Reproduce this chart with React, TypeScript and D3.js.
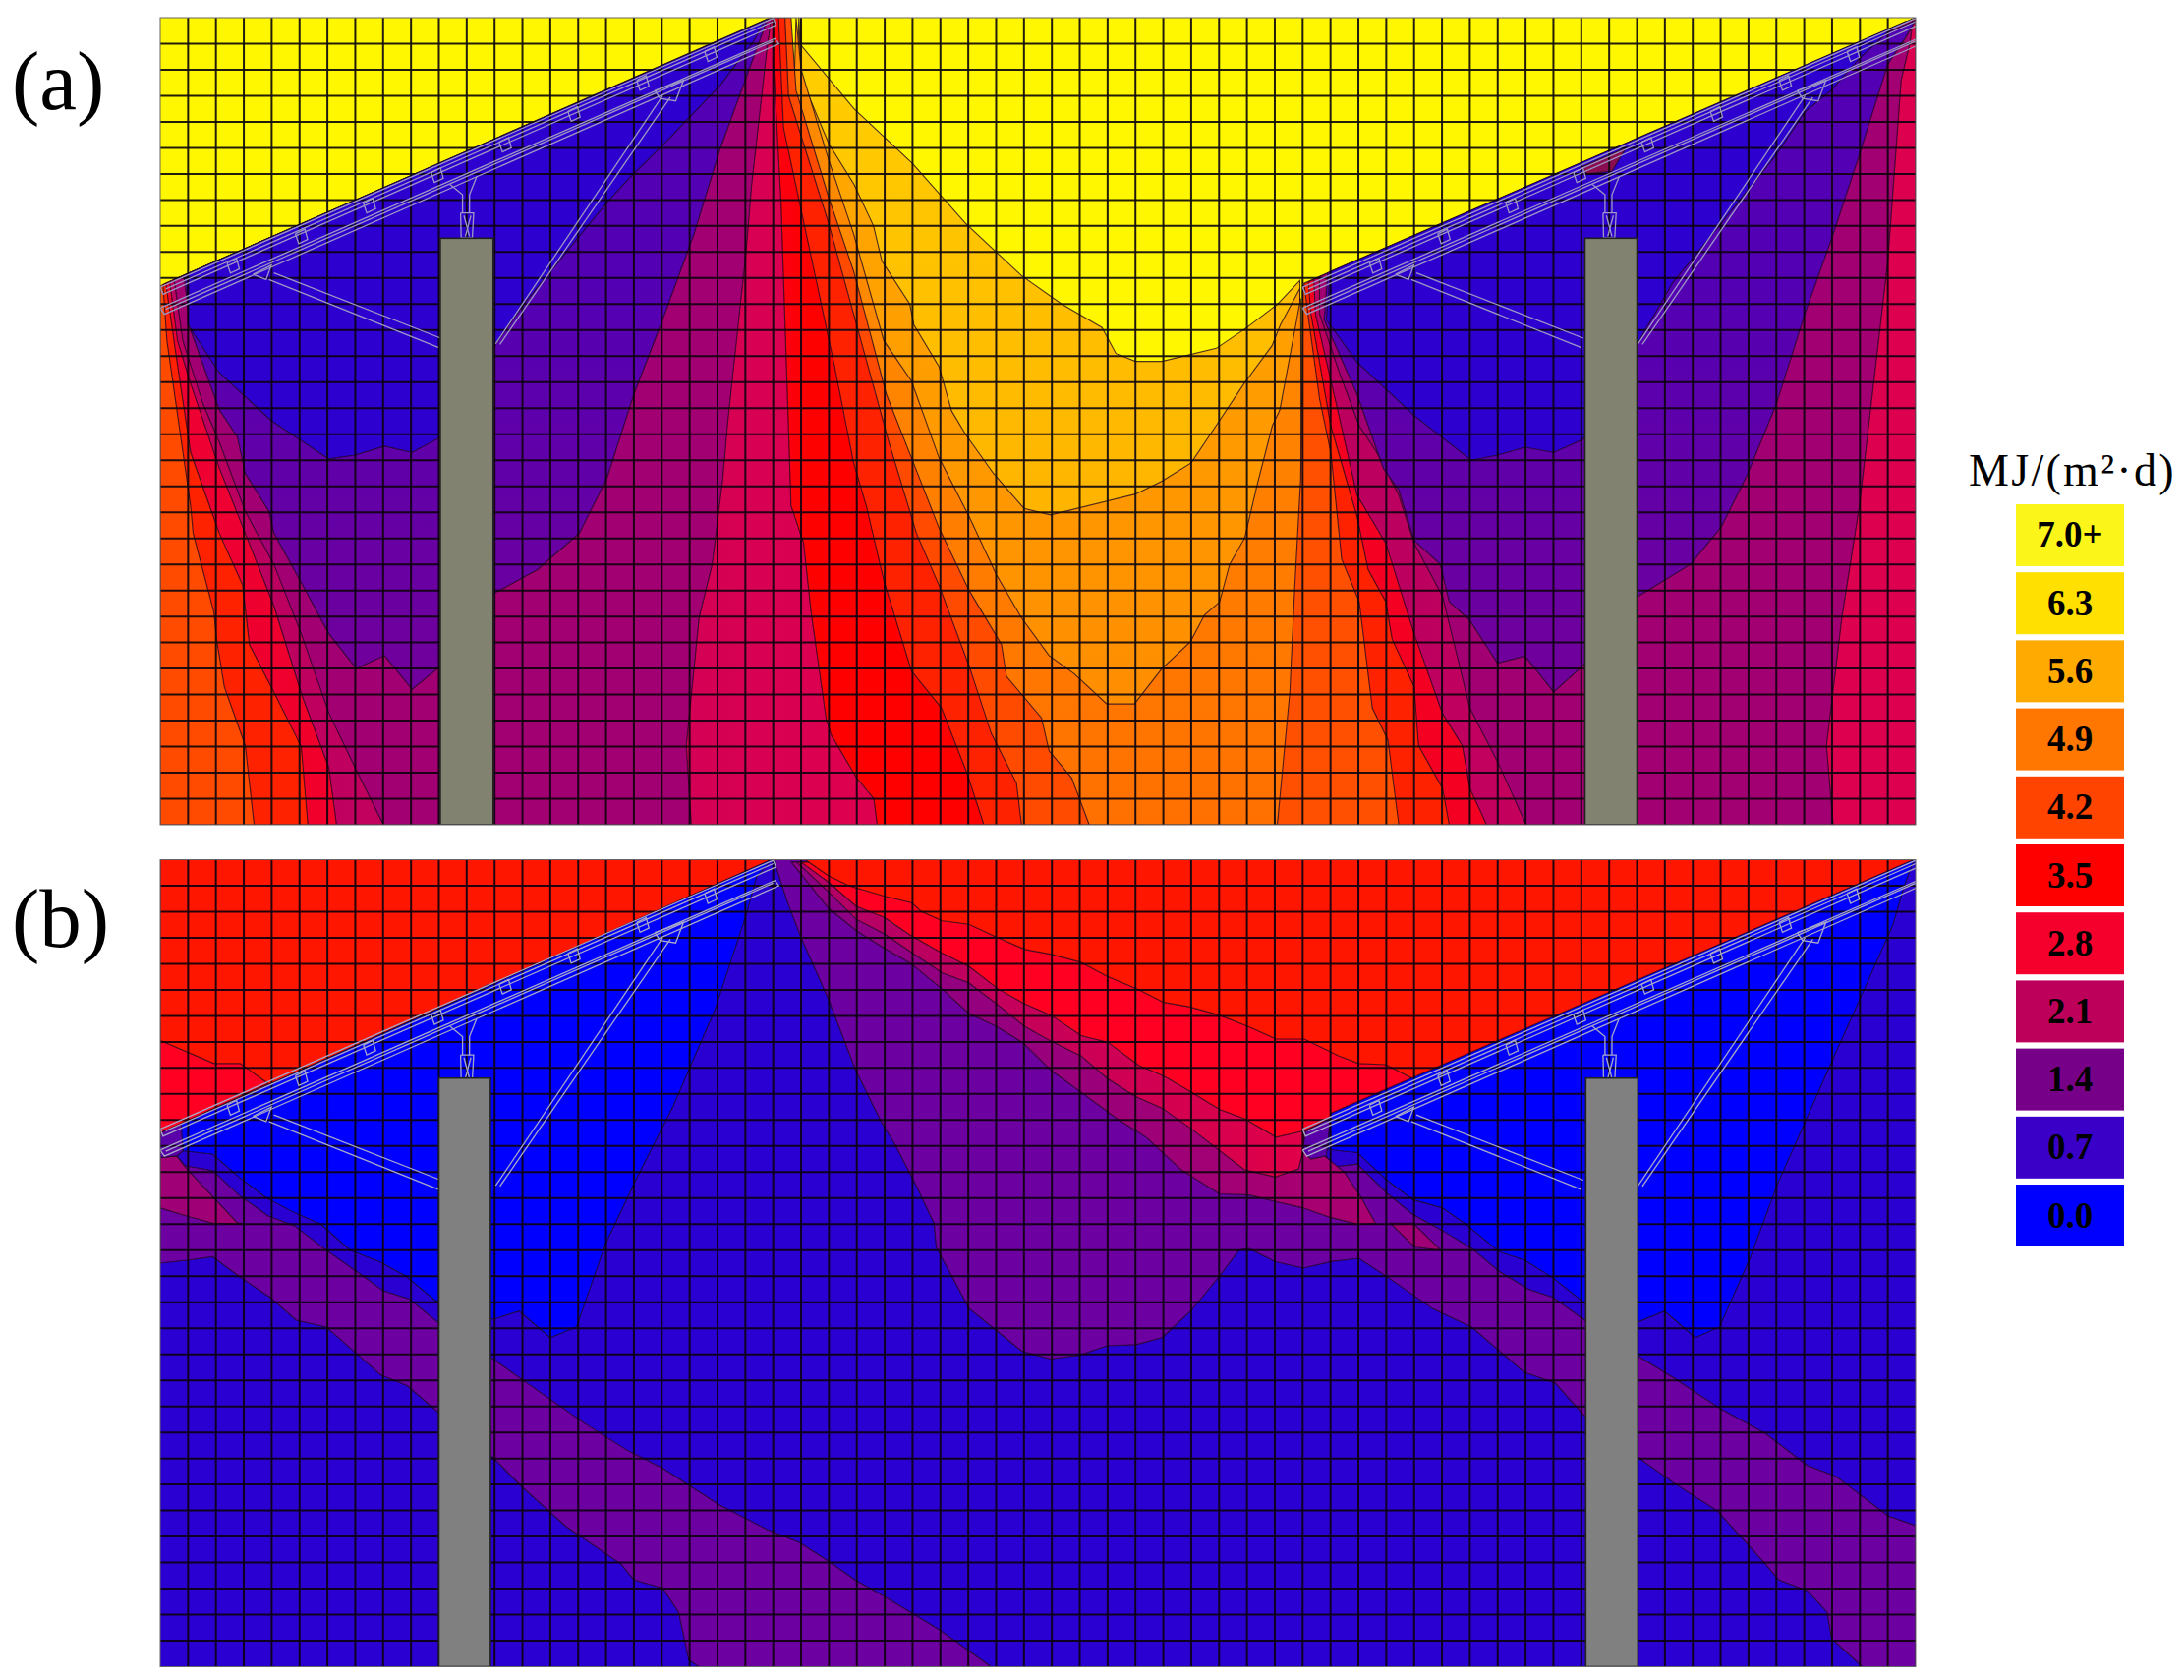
import { useRef, useEffect } from 'react';
import * as d3 from 'd3';

type Pt = [number, number];

// legend
const legendLabels = ['7.0+', '6.3', '5.6', '4.9', '4.2', '3.5', '2.8', '2.1', '1.4', '0.7', '0.0'];
const legendColors = ['#fbf51a', '#ffe000', '#ffaa00', '#ff7700', '#ff4400', '#ff0000', '#f5002d', '#bd005a', '#770088', '#3a00c8', '#0000ff'];

// panel (a), middle of the field
const a63: Pt[] = [[22.98, 0], [23, 1.06], [24.9, 3.5], [27, 5.6], [28.9, 7.9], [30.9, 9.9], [32.35, 11], [33.8, 11.9], [34.3, 12.9], [35, 13.2], [35.95, 13.2], [37.9, 12.7], [39, 11.9], [40.1, 11], [40.9, 10.1]];
const a56: Pt[] = [[22.92, 0], [23, 2.3], [24, 4.85], [24.9, 6.4], [25.6, 8], [25.9, 9.35], [26.9, 11], [27.05, 11.8], [27.95, 13.4], [28.4, 15.1], [28.9, 16], [29.9, 17.5], [31, 18.85], [31.95, 19.1], [35, 18.3], [35.95, 17.8], [37, 17.1], [38, 15.5], [38.9, 14.05], [39.9, 12.6], [40.2, 11.8], [40.9, 10.4]];
const a49: Pt[] = [[22.82, 0], [23, 1.98], [23.99, 5.46], [24.89, 8.32], [25.97, 12.41], [26.96, 13.95], [27.95, 16.9], [29.03, 19.16], [30.01, 21.4], [30.91, 23.05], [31.9, 24.5], [32.8, 25.2], [33.97, 26.36], [34.96, 26.36], [35.95, 25], [36.97, 23.97], [37.48, 22.94], [38.02, 22.44], [38.38, 21], [38.92, 19.98], [39.37, 17.93], [39.91, 15.68], [40.18, 15.07], [40.93, 10.78]];

// panel (a), right hand sides of the first pier
const aL4: Pt[] = [[22.64, 0], [22.82, 2.8], [23.99, 6.9], [24.89, 9.75], [26.06, 14.46], [26.96, 16.9], [27.95, 19.6], [29.03, 22], [30.19, 24.07], [30.37, 25.3], [31.63, 26.9], [31.9, 28.16], [32.71, 29.2], [33.34, 31]];
const aL3: Pt[] = [[22.42, 0], [22.55, 3], [23.99, 7.9], [24.89, 11.4], [26.15, 16.3], [27.14, 19.8], [27.95, 21.8], [29.03, 24.9], [29.83, 27.5], [30.73, 29.4], [30.91, 31]];
const aL2: Pt[] = [[22.19, 0], [22.37, 4.23], [23.27, 8.73], [24.17, 13.23], [24.89, 17.12], [25.34, 18.75], [25.97, 21.62], [26.96, 25.09], [28.04, 26.52], [28.94, 28.98], [29.56, 31]];
const aL1: Pt[] = [[22.01, 0], [22.01, 1.78], [22.28, 7.1], [22.64, 18.75], [23.09, 20.18], [23.36, 22.84], [23.9, 26.93], [24.08, 27.55], [24.98, 29.18], [25.61, 30], [25.73, 31]];
const aCr: Pt[] = [[21.93, 0], [21.78, 1.17], [21.22, 6.48], [21.03, 8.94], [20.37, 15.5], [20.19, 17.7], [19.81, 21], [19.34, 23.05], [18.88, 27.96], [19.06, 31]];

// panel (a), left hand sides of the first pier
const aC1: Pt[] = [[0.1, 10.25], [0.24, 12.4], [0.71, 15.9], [1.09, 18.75], [1.18, 19.8], [1.93, 22.85], [2.02, 23.85], [2.3, 25.7], [3.05, 27.95], [3.37, 31]];
const aC2: Pt[] = [[0.2, 10.2], [0.52, 12.6], [1.09, 16.7], [2.12, 19.8], [2.96, 21.8], [3.2, 24.07], [4.08, 25.9], [5.06, 28], [5.3, 31]];
const aC3: Pt[] = [[0.34, 10.14], [0.62, 12.4], [1.09, 14.05], [2.12, 17.3], [3.05, 19.8], [4.08, 22.6], [5.11, 26.1], [6.05, 28.8], [6.33, 31]];
const aC4: Pt[] = [[0.5, 10.06], [0.81, 12.4], [1.55, 14.87], [2.12, 16.3], [3.05, 18.96], [4.08, 21], [5.06, 23.66], [6.05, 26.7], [6.99, 28.8], [8.01, 31]];
const aC5: Pt[] = [[0.85, 9.9], [1.09, 12], [2.12, 15.07], [2.77, 16.1], [3.05, 17.5], [3.9, 18.96], [4.08, 19.8], [5.11, 21.8], [6.05, 23.66], [7.04, 25], [8.05, 24.5], [9.04, 25.8], [10.07, 24.9], [12, 22.1], [13.54, 21.2], [15.04, 19.8], [16.03, 17.7], [17, 14.46], [18.03, 11.6], [19.16, 8.3], [20.09, 5.05], [21.2, 1.8], [21.8, 0.04]];
const aC6: Pt[] = [[0.95, 9.85], [1, 11.8], [2.12, 13.64], [3.99, 15.48], [6.05, 16.95], [6.99, 16.8], [8.05, 16.46], [9.04, 16.7], [10.07, 16.1], [12, 12.6], [13.05, 11], [14.04, 9.7], [16.03, 7.1], [16.8, 6.2], [18.03, 4.9], [20.09, 2.6], [21.3, 0.9], [21.7, 0.1]];

// panel (a), second pier
const aB42: Pt[] = [[41, 10.3], [40.98, 14], [40.93, 17.7], [40.72, 21.8], [40.54, 25.9], [40.27, 28.98], [40.09, 31]];
const aD1: Pt[] = [[41.05, 10.2], [41.19, 11.39], [41.61, 14.66], [42.01, 16.7], [42.4, 20.8], [43.03, 22.43], [43.5, 26.52], [44.06, 27.75], [44.45, 31]];
const aD2: Pt[] = [[41.2, 10.15], [41.3, 11.39], [42.01, 15.68], [42.95, 19.16], [43.35, 21.2], [43.98, 22.43], [44.21, 23.87], [45, 25.7], [45.16, 27.96], [46.02, 29.6], [46.26, 31]];
const aD3: Pt[] = [[41.4, 10.05], [41.46, 11.39], [42.17, 14.66], [42.95, 18.34], [43.98, 20.18], [45, 23.66], [46.02, 26.73], [46.73, 27.96], [47, 29.6], [47.6, 31]];
const aD4: Pt[] = [[41.6, 9.95], [41.61, 11.39], [42.32, 13.64], [43.03, 15.68], [43.66, 16.7], [44.45, 18.34], [45, 20.18], [46.02, 22.23], [47, 26.52], [47.99, 28.57], [49.02, 31]];
const aD5: Pt[] = [[41.9, 9.8], [41.77, 11.6], [42.95, 14.46], [43.9, 17.32], [44.45, 18.14], [45, 20.08], [45.94, 21], [46.26, 22.43], [47, 23.15], [47.99, 24.79], [48.98, 24.52], [50.01, 25.9], [51.06, 24.89], [53.03, 22.23], [54.92, 21], [56.02, 19.57], [56.97, 17.53], [57.99, 14.87], [59.02, 11.39], [60.04, 8.32], [60.98, 5.26], [62, 1.78], [62.64, 0.76], [63, 0.1]];
const aD6: Pt[] = [[42, 9.75], [41.85, 11.6], [42.95, 13.23], [45, 15.28], [47.05, 17], [47.99, 16.8], [48.98, 16.5], [50.01, 16.7], [51.06, 16.2], [53.03, 12.5], [54.29, 10.16], [55.08, 9.14], [56.02, 7.9], [58, 5.26], [59.02, 3.62], [59.96, 2.8], [60.98, 1.57], [62, 0.55], [62.64, 0.14]];
const aCr2: Pt[] = [[62.9, 0.05], [62.8, 0.96], [62.48, 2.39], [62, 9.35], [60.98, 18.75], [60.35, 23.05], [59.8, 27.96], [60.04, 31]];
const aPatch: Pt[] = [[50.98, 5.75], [52.6, 5], [52.1, 5.9], [51.2, 6]];

// panel (b), band over the field between the piers
const bA: Pt[] = [[23.15, 0], [23.97, 0.61], [24.73, 1.01], [26, 1.41], [26.98, 1.66], [27.3, 1.98], [28.07, 2.35], [29.02, 2.48], [30.02, 2.98], [31.03, 3.45], [31.98, 3.64], [33.03, 3.94], [33.97, 4.47], [35.13, 5], [36.01, 5.48], [36.96, 5.66], [38.03, 5.98], [39.04, 6.41], [40.05, 6.89], [41.06, 6.89], [42.3, 7.54], [43, 7.83], [43.99, 7.87], [45.02, 8.45]];
const bB: Pt[] = [[23, 0.09], [23.97, 0.85], [24.98, 1.79], [25.99, 2.22], [26.93, 2.91], [28.07, 3.6], [29.02, 4.1], [30.09, 4.98], [31.03, 5.54], [31.98, 5.98], [33.05, 6.76], [34, 7.01], [35.13, 7.91], [36.01, 8.31], [37.02, 8.94], [38.03, 9.6], [38.91, 9.95], [40.05, 10.66], [41.06, 10.41]];
const bC: Pt[] = [[22.84, 0.09], [23.97, 1.22], [24.98, 2.29], [25.99, 2.85], [26.93, 3.54], [28.07, 4.35], [29.02, 4.73], [30.09, 5.6], [31.03, 6.41], [31.98, 6.98], [33.05, 7.54], [34, 8.41], [35, 9.1], [35.95, 9.54], [37.02, 10.35], [38.91, 11.91], [40.02, 12.19], [40.85, 11.88], [41.02, 11.19], [41.05, 10.44]];
const bD: Pt[] = [[22.65, 0.09], [23.97, 1.85], [24.98, 2.73], [25.99, 3.41], [26.93, 3.98], [28.07, 4.98], [29.02, 5.91], [30.02, 6.41], [30.97, 7.04], [31.98, 8.1], [33.11, 8.98], [34.37, 9.98], [35.38, 10.66], [36.64, 11.91], [38.01, 12.84], [39.08, 12.88], [40.02, 13.13], [41.02, 13.38], [42.02, 13.75], [42.96, 14], [43.61, 13.96], [43.08, 12.94], [42.49, 12], [41.79, 11.38], [41.3, 10.3]];
const bG: Pt[] = [[22.02, 0], [22.5, 1.6], [22.97, 2.92], [23.99, 5.38], [24.94, 8.04], [25.88, 10.08], [26.35, 10.9], [27.14, 12.54], [27.77, 13.97], [27.85, 14.89], [29.03, 17.24], [29.98, 18.06], [30.92, 18.88], [31.94, 19.18], [32.97, 19.04], [33.99, 18.67], [35.02, 18.63], [35.96, 18.36], [36.98, 17.34], [38.01, 16.01], [38.72, 14.99], [39.08, 14.94], [40.02, 15.44], [41.02, 15.69], [42.02, 15.44], [43.02, 15.31], [44.15, 16.11], [45.65, 17.24], [47.06, 17.95], [48.95, 19.69], [50.06, 20.1], [51.08, 21.33], [53.05, 22.97], [54.39, 23.99], [55.88, 25.01], [57.61, 27.06], [58.09, 27.67], [59.11, 28.08], [59.82, 28.9], [59.98, 29.92], [61.08, 31]];
const bF: Pt[] = [[41, 10.4], [41.85, 11.38], [42.02, 11.81], [42.96, 11.69], [44.02, 12.81], [44.96, 13.63], [46.02, 14.25], [47.08, 14.94], [48.05, 15.81], [49.11, 16.5], [49.98, 16.81], [51.08, 17.65], [53.05, 19.08], [54.31, 19.9], [56.04, 21.12], [57.61, 22.04], [59.11, 23.27], [60.13, 23.68], [62.02, 25.21], [63, 25.58]];
const bE: Pt[] = [[42, 9.75], [41.91, 11.13], [42.96, 11.25], [44.02, 12.31], [44.96, 13.06], [46.02, 13.38], [46.85, 14], [48.05, 15.06], [48.96, 15.38], [49.98, 16.06], [51.08, 17], [53.05, 17.75], [53.99, 17.34], [55.09, 18.36], [55.96, 17.95], [57.06, 15.3], [58.01, 12.54], [59.11, 9.88], [60.13, 7.42], [61.16, 4.97], [62.18, 2.51], [62.57, 1.08], [62.93, 0]];
const bMagentaRight: Pt[] = [[44.14, 13.96], [44.96, 13.96], [45.96, 15], [45.02, 14.88]];
const bTipRight: Pt[] = [[41.1, 10.45], [41, 11.2], [41.3, 11.5], [41.85, 11.38], [42, 9.9]];
const bPatchRight: Pt[] = [[50.69, 5.89], [52.1, 5.17], [52.73, 4.87], [52.42, 5.58], [51.16, 5.89]];

// panel (b), first pier
const bLeftStep: Pt[] = [[0, 6.95], [1.93, 7.83], [2.87, 7.83], [3.87, 8.6], [0, 10.5]];
const bE1: Pt[] = [[0.75, 10.15], [0.82, 11.19], [1.88, 11.31], [2.82, 12.19], [3.82, 13], [4.82, 13.56], [5.76, 14], [6.82, 15], [7.88, 15.44], [8.82, 16], [9.88, 16.94], [11.95, 17.65], [12.88, 17.34], [14, 18.36], [14.94, 17.95], [15.97, 14.79], [17.1, 12.23], [18.41, 9.47], [19.9, 5.79], [21.03, 2.11], [21.4, 0.67], [21.93, 0]];
const bF1: Pt[] = [[0, 10.5], [0, 11.44], [0.59, 11.38], [0.88, 11.75], [1.88, 11.94], [2.82, 12.88], [3.88, 13.69], [4.82, 14.06], [5.88, 14.94], [7.29, 16], [8, 16.56], [8.94, 16.88], [9.94, 17.75], [11.95, 19.18], [13.16, 20.1], [15.22, 21.64], [16.72, 22.66], [18.03, 23.37], [20.09, 24.8], [21.79, 25.73], [22.97, 26.24], [23.99, 26.95], [24.94, 27.67], [25.96, 28.28], [28.01, 29.61], [29.82, 31]];
const bG1: Pt[] = [[19.34, 31], [18.97, 30.74], [18.6, 28.9], [18.03, 27.98], [17, 27.67], [16.54, 27.06], [14.57, 25.62], [12.98, 24.09], [11.95, 22.97], [9.98, 21.23], [8.86, 20.2], [7.92, 19.8], [5.96, 17.95], [4.88, 17.69], [3.94, 16.81], [2.82, 16], [1.88, 15.25], [1.06, 15.38], [0, 15.5]];
const bMagentaLeft: Pt[] = [[0, 11.44], [0.59, 11.38], [1, 11.94], [1.88, 12.94], [2.76, 13.94], [3.06, 14], [1.88, 13.96], [0.94, 13.69], [0, 13.38]];
const bTipLeft: Pt[] = [[0, 10.5], [0, 11.44], [0.59, 11.38], [0.82, 11.19], [0.85, 10.1]];
const bPatchLeft: Pt[] = [[9.89, 5.79], [11.1, 5.17], [11.76, 4.8], [11.29, 5.58], [10.73, 5.68]];

// the concrete piers: left column, right column, top row
const aPiers: number[][] = [[10.05, 11.95, 8.47], [51.13, 53, 8.47]];
const bPiers: number[][] = [[10, 11.85, 8.39], [51.16, 53.03, 8.39]];

// mounting structure of one row of modules, repeated one table further along
const tableOffsets = [0, 41];
const upperRail: Pt[] = [[0, 10.35], [22, 0.02], [22.1, 0.28], [0.1, 10.62], [0, 10.35]];
const lowerRail: Pt[] = [[0, 11.15], [22.06, 0.8], [22.2, 1], [0.15, 11.39], [0, 11.15]];
const lowerRailInner: Pt[] = [[0.2, 11.2], [22, 0.9]];
const upperRailInner: Pt[] = [[0.2, 10.42], [22, 0.15]];
const strutLeftA: Pt[] = [[4.08, 9.8], [10.07, 12.31]];
const strutLeftB: Pt[] = [[3.9, 10.06], [9.98, 12.66]];
const strutRightA: Pt[] = [[12.04, 12.52], [18.03, 3]];
const strutRightB: Pt[] = [[12.19, 12.55], [18.31, 3.05]];
const bracketLeft: Pt[] = [[3.33, 9.86], [3.99, 9.5], [3.8, 10.06], [3.33, 9.86]];
const bracketRight: Pt[] = [[17.75, 2.8], [18.78, 2.4], [18.5, 3.2], [17.94, 3.1], [17.75, 2.8]];
const postLeft: Pt[] = [[10.4, 6.4], [10.85, 6.8], [10.85, 7.5]];
const postRight: Pt[] = [[11.36, 6.1], [11.1, 6.8], [11.1, 7.5]];
const postBlock: Pt[] = [[10.78, 7.5], [11.25, 7.5], [11.2, 8.45], [10.8, 8.45], [10.78, 7.5]];
const postCrossA: Pt[] = [[10.9, 7.6], [11.1, 8.4]];
const postCrossB: Pt[] = [[11.15, 7.6], [10.95, 8.4]];
const clipCols = [2.62, 5.07, 7.51, 9.94, 12.38, 14.85, 17.32, 19.76];
const clipRows = [9.45, 8.32, 7.14, 5.97, 4.8, 3.62, 2.43, 1.32];
const clipShape: Pt[] = [[-0.22, -0.02], [0.12, -0.2], [0.22, 0.2], [-0.1, 0.36], [-0.22, -0.02]];

const rev = (p: Pt[]): Pt[] => [...p].reverse();
const across = (from: number, to: number, c0: string, c1: string) => ({ axis: 'x', from, to, c0, c1 });
const down = (from: number, to: number, c0: string, c1: string) => ({ axis: 'y', from, to, c0, c1 });

const aLayers: any[] = [
    [[...a63, [41, 31], [22, 31]], down(1, 19, '#ffcf00', '#ffb400')],
    [[...a56, [41, 31], [22, 31]], down(2, 26, '#ffac00', '#ff8e00')],
    [[...a49, [41, 31], [22, 31]], down(10, 31, '#ff8a00', '#ff7000')],
    [[[0, 10.3], [0, 31], ...rev(aL4), [22, 0]], '#ff4c00'],
    [[...aB42, [63, 31], [63, 0]], '#ff5000'],
    [[...aC1, ...rev(aL3), [22, 0]], '#ff2000'],
    [[...aD1, [63, 31], [63, 0]], '#ff2000'],
    [[...aC2, ...rev(aL2), [22, 0]], across(3, 26, '#ee0030', '#ff0500')],
    [[...aD2, [63, 31], [63, 0]], '#f40020'],
    [[...aC3, ...rev(aL1), [22, 0]], across(4, 24, '#bc0060', '#dc0050')],
    [[...aD3, [63, 31], [63, 0]], across(45, 60, '#bc0060', '#dc0050')],
    [[...aC4, ...rev(aCr)], '#a20072'],
    [[...aD4, ...rev(aCr2)], '#a20072'],
    [aC5, down(10, 25, '#5200b4', '#70009c')],
    [aD5, down(10, 25, '#5200b4', '#70009c')],
    [aC6, '#2e00d0'],
    [aD6, '#2e00d0'],
    [aPatch, '#8a1050']
];

const bLayers: any[] = [
    [[...bG, [63, 31], ...rev(bF), [41, 0]], '#6c00a0'],
    [[...bF1, ...bG1], '#6c00a0'],
    [[...bD, [41, 0]], across(23, 42, '#8a0086', '#a80070')],
    [bMagentaLeft, '#a00074'],
    [bMagentaRight, '#a00074'],
    [[...bC, [41, 0]], across(23, 41, '#b00068', '#e00048')],
    [[...bB, [63, 0]], '#ff0420'],
    [[...bA, [63, 0]], '#ff1200'],
    [[[0, 0], [21.93, 0], [0, 10.5]], '#ff1200'],
    [bLeftStep, '#ff0420'],
    [bPatchRight, '#8a1070'],
    [bPatchLeft, '#6a20a0'],
    [bTipLeft, '#5a00a8'],
    [bTipRight, '#5a00a8'],
    [bE1, '#0000ff'],
    [bE, '#0000ff']
];

const App = () => {
    const svgRef = useRef<SVGSVGElement>(null);

    useEffect(() => {
        const svg = d3.select(svgRef.current);
        svg.selectAll('*').remove();
        const defs = svg.append('defs');
        const x = d3.scaleLinear().domain([0, 63]).range([163, 1949]);
        const yA = d3.scaleLinear().domain([0, 31]).range([18, 839]);
        const yB = d3.scaleLinear().domain([0, 31]).range([874.5, 1695.5]);
        let gradId = 0;

        // the source picture is a soft screen capture
        defs.append('filter').attr('id', 'soft')
            .attr('x', 0).attr('y', 0).attr('width', 1).attr('height', 1)
            .append('feGaussianBlur').attr('stdDeviation', 0.6);

        const drawPanel = (name: string, y: any, base: string, layers: any[], piers: number[][], pierColor: string, railColor: string) => {
            const line = d3.line<Pt>().x(d => x(d[0])).y(d => y(d[1]));
            defs.append('clipPath').attr('id', 'clip-' + name)
                .append('rect')
                .attr('x', x(0)).attr('y', y(0))
                .attr('width', x(63) - x(0)).attr('height', y(31) - y(0));
            const outer = svg.append('g').attr('clip-path', 'url(#clip-' + name + ')');
            const g = outer.append('g').attr('filter', 'url(#soft)');

            g.append('rect')
                .attr('x', x(0)).attr('y', y(0))
                .attr('width', x(63) - x(0)).attr('height', y(31) - y(0))
                .attr('fill', base);

            layers.forEach(([pts, fill]) => {
                let paint = fill;
                if (typeof fill !== 'string') {
                    const id = 'grad' + gradId++;
                    const grad = defs.append('linearGradient').attr('id', id).attr('gradientUnits', 'userSpaceOnUse');
                    if (fill.axis === 'x') {
                        grad.attr('x1', x(fill.from)).attr('x2', x(fill.to)).attr('y1', 0).attr('y2', 0);
                    } else {
                        grad.attr('y1', y(fill.from)).attr('y2', y(fill.to)).attr('x1', 0).attr('x2', 0);
                    }
                    grad.append('stop').attr('offset', 0).attr('stop-color', fill.c0);
                    grad.append('stop').attr('offset', 1).attr('stop-color', fill.c1);
                    paint = 'url(#' + id + ')';
                }
                g.append('path')
                    .attr('d', line(pts) + 'Z')
                    .attr('fill', paint)
                    .attr('stroke', '#200a20')
                    .attr('stroke-opacity', 0.8)
                    .attr('stroke-width', 1.1);
            });

            // mesh
            d3.range(1, 63).forEach(c => {
                g.append('line')
                    .attr('x1', x(c)).attr('x2', x(c))
                    .attr('y1', y(0)).attr('y2', y(31))
                    .attr('stroke', '#0c060c').attr('stroke-width', 2).attr('stroke-opacity', 0.9);
            });
            d3.range(1, 31).forEach(r => {
                g.append('line')
                    .attr('x1', x(0)).attr('x2', x(63))
                    .attr('y1', y(r)).attr('y2', y(r))
                    .attr('stroke', '#0c060c').attr('stroke-width', 2).attr('stroke-opacity', 0.9);
            });

            // module tables
            const parts = [upperRail, upperRailInner, lowerRail, lowerRailInner, strutLeftA, strutLeftB, strutRightA, strutRightB, bracketLeft, bracketRight, postLeft, postRight, postBlock, postCrossA, postCrossB];
            tableOffsets.forEach(dx => {
                const table = g.append('g').attr('fill', 'none').attr('stroke', railColor).attr('stroke-width', 1.3);
                parts.forEach(p => {
                    table.append('path').attr('d', line(p.map(d => [d[0] + dx, d[1]] as Pt)));
                });
                clipCols.forEach((c, i) => {
                    table.append('path').attr('d', line(clipShape.map(d => [d[0] + c + dx, d[1] + clipRows[i]] as Pt)));
                });
            });

            piers.forEach(p => {
                g.append('rect')
                    .attr('x', x(p[0])).attr('y', y(p[2]))
                    .attr('width', x(p[1]) - x(p[0])).attr('height', y(31) - y(p[2]))
                    .attr('fill', pierColor)
                    .attr('stroke', '#222').attr('stroke-width', 1.6);
            });

            svg.append('rect')
                .attr('x', x(0)).attr('y', y(0))
                .attr('width', x(63) - x(0)).attr('height', y(31) - y(0))
                .attr('fill', 'none').attr('stroke', '#666').attr('stroke-width', 1);
        };

        drawPanel('a', yA, '#fff700', aLayers, aPiers, '#82826f', '#9c98c4');
        drawPanel('b', yB, '#2c00d2', bLayers, bPiers, '#808080', '#a8a8c8');

        svg.append('text').text('(a)')
            .attr('x', 12).attr('y', 111)
            .attr('font-family', '"Liberation Serif"').attr('font-size', 85);
        svg.append('text').text('(b)')
            .attr('x', 12).attr('y', 963)
            .attr('font-family', '"Liberation Serif"').attr('font-size', 85);

        // legend
        const band = d3.scaleBand().domain(legendLabels).range([513, 1268]).paddingInner(0.09);
        legendLabels.forEach((l, i) => {
            svg.append('rect')
                .attr('x', 2051).attr('y', band(l))
                .attr('width', 110).attr('height', band.bandwidth())
                .attr('fill', legendColors[i]);
            svg.append('text').text(l)
                .attr('x', 2106).attr('y', band(l)! + band.bandwidth() / 2 + 12)
                .attr('text-anchor', 'middle')
                .attr('font-family', '"Liberation Serif"').attr('font-weight', 'bold').attr('font-size', 37);
        });
        svg.append('text').text('MJ/(m²·d)')
            .attr('x', 2003).attr('y', 494)
            .attr('letter-spacing', 2.3)
            .attr('font-family', '"Liberation Serif"').attr('font-size', 46);
    }, []);

    return (
        <svg ref={svgRef} width={2222} height={1709} style={{ position: 'absolute', left: 0, top: 0, display: 'block', background: '#fff' }} />
    );
};

export default App;
